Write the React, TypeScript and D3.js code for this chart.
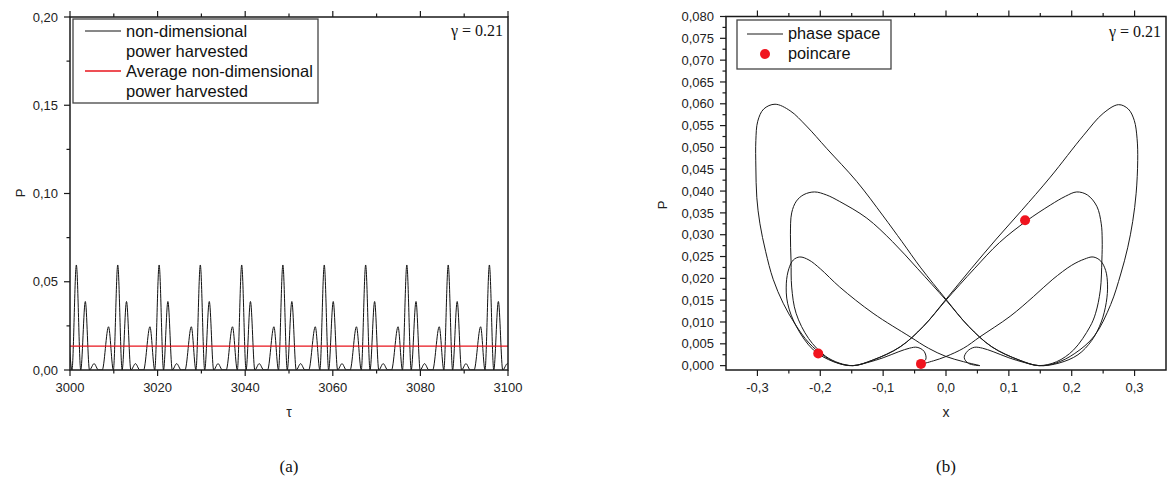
import React from 'react';
import * as d3 from 'd3';

const W = 1169;
const H = 485;

// ---------- Panel (a): power time series ----------
const tauTicks = [3000, 3020, 3040, 3060, 3080, 3100];
const tauMinorTicks = [3010, 3030, 3050, 3070, 3090];
const pTicksA = [0, 0.05, 0.1, 0.15, 0.2];
const pMinorTicksA = [0.025, 0.075, 0.125, 0.175];

const bigPeakTau = [3001.45, 3010.9, 3020.35, 3029.75, 3039.2, 3048.6, 3058.05, 3067.5, 3076.9, 3086.35, 3095.75];
const mediumPeakTau = [3003.5, 3012.9, 3022.35, 3031.8, 3041.2, 3050.65, 3060.1, 3069.55, 3079.0, 3088.4, 3097.8];
const tinyPeakTau = [3005.5, 3014.95, 3024.35, 3033.8, 3043.2, 3052.65, 3062.1, 3071.5, 3080.95, 3090.4, 3099.85];
const smallPeakTau = [2999.35, 3008.8, 3018.25, 3027.7, 3037.1, 3046.55, 3056.0, 3065.4, 3074.9, 3084.3, 3093.75];
const bigPeakP = 0.0595;
const mediumPeakP = 0.0388;
const tinyPeakP = 0.0036;
const smallPeakP = 0.0245;
const zeroTau = [
  2997.9, 3000.45, 3002.45, 3004.45, 3006.5, 3007.35,
  3009.9, 3011.9, 3013.9, 3015.95, 3016.8,
  3019.35, 3021.35, 3023.35, 3025.4, 3026.25,
  3028.75, 3030.75, 3032.8, 3034.8, 3035.65,
  3038.2, 3040.2, 3042.2, 3044.25, 3045.1,
  3047.6, 3049.6, 3051.65, 3053.65, 3054.5,
  3057.05, 3059.05, 3061.1, 3063.1, 3063.95,
  3066.5, 3068.5, 3070.5, 3072.55, 3073.4,
  3075.9, 3077.9, 3079.95, 3081.95, 3082.8,
  3085.35, 3087.35, 3089.4, 3091.4, 3092.25,
  3094.75, 3096.75, 3098.8, 3100.9,
];
const averagePower = 0.0135;

// ---------- Panel (b): phase space ----------
const xTicksB = [-0.3, -0.2, -0.1, 0, 0.1, 0.2, 0.3];
const xMinorTicksB = [-0.25, -0.15, -0.05, 0.05, 0.15, 0.25];
const pTicksB = [0, 0.005, 0.01, 0.015, 0.02, 0.025, 0.03, 0.035, 0.04, 0.045, 0.05, 0.055, 0.06, 0.065, 0.07, 0.075, 0.08];
const pMinorTicksB = [0.0025, 0.0075, 0.0125, 0.0175, 0.0225, 0.0275, 0.0325, 0.0375, 0.0425, 0.0475, 0.0525, 0.0575, 0.0625, 0.0675, 0.0725, 0.0775];

const bigRightArc: [number, number][] = [
  [-0.148, 0], [-0.116, 0.0013], [-0.073, 0.0043], [-0.036, 0.009], [0, 0.0152],
  [0.04, 0.0222], [0.08, 0.029], [0.12, 0.0355], [0.166, 0.0432], [0.219, 0.0528],
  [0.25, 0.0578], [0.2745, 0.0598], [0.29, 0.0588], [0.2995, 0.0562], [0.304, 0.052],
  [0.305, 0.047], [0.3025, 0.0395], [0.297, 0.033], [0.289, 0.027], [0.278, 0.021],
  [0.262, 0.014], [0.236, 0.0068], [0.205, 0.0028], [0.175, 0.0006], [0.148, 0],
];
const mediumLeftArc: [number, number][] = [
  [0.148, 0], [0.116, 0.0013], [0.073, 0.0043], [0.036, 0.009], [0, 0.015],
  [-0.045, 0.0222], [-0.085, 0.0284], [-0.126, 0.0338], [-0.169, 0.0376], [-0.19, 0.0391],
  [-0.209, 0.0398], [-0.226, 0.0392], [-0.238, 0.0377], [-0.2455, 0.035], [-0.2475, 0.03],
  [-0.2465, 0.024], [-0.2455, 0.018], [-0.2385, 0.012], [-0.2185, 0.0062], [-0.192, 0.0022],
  [-0.17, 0.0006], [-0.148, 0],
];
const tinyLeftHook: [number, number][] = [
  [-0.148, 0], [-0.125, 0.0007], [-0.1, 0.0018], [-0.075, 0.0032], [-0.058, 0.004],
  [-0.046, 0.0042], [-0.035, 0.0033], [-0.032, 0.0015], [-0.041, 0.0004],
];
const smallRightArc: [number, number][] = [
  [-0.041, 0.0004], [-0.02, 0.0011], [0, 0.0021], [0.028, 0.004], [0.054, 0.0066],
  [0.102, 0.0113], [0.139, 0.0158], [0.17, 0.0198], [0.2, 0.023], [0.22, 0.0244],
  [0.234, 0.0249], [0.246, 0.024], [0.254, 0.0218], [0.257, 0.0185], [0.255, 0.0145],
  [0.247, 0.01], [0.232, 0.0058], [0.21, 0.0025], [0.18, 0.0006], [0.148, 0],
];
const bigLeftArc: [number, number][] = [
  [0.148, 0], [0.116, 0.0013], [0.073, 0.0043], [0.036, 0.009], [0, 0.0152],
  [-0.04, 0.0224], [-0.07, 0.0284], [-0.1, 0.0343], [-0.142, 0.0422], [-0.19, 0.0498],
  [-0.222, 0.0549], [-0.248, 0.0584], [-0.272, 0.0599], [-0.29, 0.0588], [-0.2995, 0.056],
  [-0.3025, 0.0516], [-0.3025, 0.0455], [-0.301, 0.0385], [-0.296, 0.0325], [-0.287, 0.0262],
  [-0.275, 0.0198], [-0.259, 0.0143], [-0.24, 0.0095], [-0.218, 0.0052], [-0.193, 0.0021],
  [-0.17, 0.0005], [-0.148, 0],
];
const mediumRightArc: [number, number][] = [
  [-0.148, 0], [-0.116, 0.0013], [-0.073, 0.0043], [-0.036, 0.009], [0, 0.015],
  [0.045, 0.0222], [0.085, 0.0282], [0.1285, 0.0332], [0.166, 0.0368], [0.19, 0.0388],
  [0.208, 0.0398], [0.225, 0.0391], [0.24, 0.0365], [0.247, 0.0325], [0.2485, 0.0288],
  [0.248, 0.0242], [0.2455, 0.0173], [0.238, 0.012], [0.229, 0.0089], [0.203, 0.0036],
  [0.176, 0.0009], [0.148, 0],
];
const tinyRightHook: [number, number][] = [
  [0.148, 0], [0.125, 0.0007], [0.1, 0.0018], [0.075, 0.0032], [0.058, 0.004],
  [0.045, 0.0042], [0.034, 0.0033], [0.029, 0.0018], [0.036, 0.0005], [0.054, 0],
];
const smallLeftArc: [number, number][] = [
  [0.054, 0], [0.028, 0.0009], [0, 0.0021], [-0.028, 0.004], [-0.057, 0.0066],
  [-0.116, 0.012], [-0.169, 0.018], [-0.2, 0.0222], [-0.218, 0.0242], [-0.2325, 0.0249],
  [-0.243, 0.0242], [-0.25, 0.0222], [-0.254, 0.0189], [-0.252, 0.0143], [-0.2378, 0.0089],
  [-0.211, 0.0036], [-0.179, 0.0009], [-0.148, 0],
];
const poincareX = [-0.2033, -0.0398, 0.1258];
const poincareP = [0.0028, 0.0004, 0.0333];

// ---------- layout ----------
const A = { left: 70, right: 508, top: 17, bottom: 370 };
const B = { left: 726, right: 1166, top: 16.5, bottom: 370 };

const SANS = '"Liberation Sans", Arial, Helvetica, sans-serif';
const SERIF = '"Liberation Serif", "Times New Roman", Times, serif';
const AX = '#1a1a1a';

const locale = d3.formatLocale({ decimal: ',', thousands: '.', grouping: [3], currency: ['', ''], minus: '-' });
const fmt2 = locale.format('.2f');
const fmt3 = locale.format('.3f');
const fmt1 = locale.format('.1f');
const fmt0 = locale.format('d');

type Box = { left: number; right: number; top: number; bottom: number };

function Frame(props: {
  box: Box;
  x: d3.ScaleLinear<number, number>;
  y: d3.ScaleLinear<number, number>;
  xTicks: number[];
  xMinor: number[];
  yTicks: number[];
  yMinor: number[];
  xFmt: (v: number) => string;
  yFmt: (v: number) => string;
}) {
  const { box, x, y, xTicks, xMinor, yTicks, yMinor, xFmt, yFmt } = props;
  const maj = 6;
  const min = 3.5;
  return (
    <g>
      <rect x={box.left} y={box.top} width={box.right - box.left} height={box.bottom - box.top}
        fill="none" stroke={AX} strokeWidth={1.5} />
      {xTicks.map((v) => (
        <g key={'xt' + v}>
          <line x1={x(v)} x2={x(v)} y1={box.bottom} y2={box.bottom + maj} stroke={AX} strokeWidth={1.2} />
          <line x1={x(v)} x2={x(v)} y1={box.top} y2={box.top - maj} stroke={AX} strokeWidth={1.2} />
          <text x={x(v)} y={392} textAnchor="middle" fontFamily={SANS} fontSize={13} fill="#222">{xFmt(v)}</text>
        </g>
      ))}
      {xMinor.map((v) => (
        <g key={'xm' + v}>
          <line x1={x(v)} x2={x(v)} y1={box.bottom} y2={box.bottom + min} stroke={AX} strokeWidth={1.2} />
          <line x1={x(v)} x2={x(v)} y1={box.top} y2={box.top - min} stroke={AX} strokeWidth={1.2} />
        </g>
      ))}
      {yTicks.map((v) => (
        <g key={'yt' + v}>
          <line x1={box.left} x2={box.left - maj} y1={y(v)} y2={y(v)} stroke={AX} strokeWidth={1.2} />
          <text x={box.left - 12} y={y(v)} dy="0.36em" textAnchor="end" fontFamily={SANS} fontSize={13} fill="#222">{yFmt(v)}</text>
        </g>
      ))}
      {yMinor.map((v) => (
        <line key={'ym' + v} x1={box.left} x2={box.left - min} y1={y(v)} y2={y(v)} stroke={AX} strokeWidth={1.2} />
      ))}
    </g>
  );
}

export default function App() {
  // Panel (a)
  const xA = d3.scaleLinear().domain([3000, 3100]).range([A.left, A.right]);
  const yA = d3.scaleLinear().domain([0, 0.2]).range([A.bottom, A.top]);

  const pts: [number, number][] = [];
  bigPeakTau.forEach((t) => pts.push([t, bigPeakP]));
  mediumPeakTau.forEach((t) => pts.push([t, mediumPeakP]));
  tinyPeakTau.forEach((t) => pts.push([t, tinyPeakP]));
  smallPeakTau.forEach((t) => pts.push([t, smallPeakP]));
  zeroTau.forEach((t) => pts.push([t, 0]));
  pts.sort((a, b) => a[0] - b[0]);
  const powerLine = d3.line<[number, number]>()
    .x((d) => xA(d[0]))
    .y((d) => yA(d[1]))
    .curve(d3.curveMonotoneX);

  // Panel (b)
  const xB = d3.scaleLinear().domain([-0.35, 0.35]).range([B.left, B.right]);
  const yB = d3.scaleLinear().domain([-0.001, 0.08]).range([B.bottom, B.top]);
  const arcs = [bigRightArc, mediumLeftArc, tinyLeftHook, smallRightArc, bigLeftArc, mediumRightArc, tinyRightHook, smallLeftArc];
  const orbit: [number, number][] = [];
  arcs.forEach((a, i) => {
    a.forEach((p, j) => {
      if (j === 0 && i > 0) return;
      orbit.push(p);
    });
  });
  orbit.pop(); // closed: last equals first
  const phaseLine = d3.line<[number, number]>()
    .x((d) => xB(d[0]))
    .y((d) => yB(d[1]))
    .curve(d3.curveCatmullRomClosed.alpha(0.5));

  return (
    <svg width={W} height={H} style={{ position: 'absolute', left: 0, top: 0, background: '#fff' }}>
      <defs>
        <clipPath id="clipA">
          <rect x={A.left} y={A.top} width={A.right - A.left} height={A.bottom - A.top} />
        </clipPath>
        <clipPath id="clipB">
          <rect x={B.left} y={B.top} width={B.right - B.left} height={B.bottom - B.top} />
        </clipPath>
      </defs>
      <rect x={0} y={0} width={W} height={H} fill="#fff" />

      {/* Panel (a) */}
      <g clipPath="url(#clipA)">
        <path d={powerLine(pts) || ''} fill="none" stroke="#111" strokeWidth={1} />
        <line x1={xA(3000)} x2={xA(3100)} y1={yA(averagePower)} y2={yA(averagePower)} stroke="#e8141c" strokeWidth={1.3} />
      </g>
      <Frame box={A} x={xA} y={yA} xTicks={tauTicks} xMinor={tauMinorTicks} yTicks={pTicksA} yMinor={pMinorTicksA}
        xFmt={(v) => fmt0(v)} yFmt={(v) => fmt2(v)} />
      <g>
        <rect x={73} y={19} width={245} height={84} fill="#fff" stroke="#444" strokeWidth={1.3} />
        <line x1={85} x2={121} y1={31} y2={31} stroke="#111" strokeWidth={1} />
        <line x1={85} x2={121} y1={71} y2={71} stroke="#e8141c" strokeWidth={1.3} />
        <g fontFamily={SANS} fontSize={16.5} fill="#111">
          <text x={126} y={37}>non-dimensional</text>
          <text x={126} y={57}>power harvested</text>
          <text x={126} y={77}>Average non-dimensional</text>
          <text x={126} y={97}>power harvested</text>
        </g>
      </g>
      <text x={503} y={36} textAnchor="end" fontFamily={SERIF} fontSize={16} fill="#111">γ = 0.21</text>
      <text transform={`translate(25,193) rotate(-90)`} textAnchor="middle" fontFamily={SANS} fontSize={13} fill="#222">P</text>
      <text x={289} y={417} textAnchor="middle" fontFamily={SANS} fontSize={14} fill="#222">τ</text>
      <text x={289} y={472} textAnchor="middle" fontFamily={SERIF} fontSize={17} fill="#111">(a)</text>

      {/* Panel (b) */}
      <g clipPath="url(#clipB)">
        <path d={phaseLine(orbit) || ''} fill="none" stroke="#1a1a1a" strokeWidth={1} />
        {poincareX.map((px, i) => (
          <circle key={i} cx={xB(px)} cy={yB(poincareP[i])} r={5} fill="#f0141e" />
        ))}
      </g>
      <Frame box={B} x={xB} y={yB} xTicks={xTicksB} xMinor={xMinorTicksB} yTicks={pTicksB} yMinor={pMinorTicksB}
        xFmt={(v) => fmt1(v)} yFmt={(v) => fmt3(v)} />
      <g>
        <rect x={737} y={20} width={154} height={49} fill="#fff" stroke="#444" strokeWidth={1.3} />
        <line x1={747} x2={783} y1={34} y2={34} stroke="#1a1a1a" strokeWidth={1} />
        <circle cx={765} cy={54} r={5} fill="#f0141e" />
        <g fontFamily={SANS} fontSize={16.3} fill="#111">
          <text x={788} y={39}>phase space</text>
          <text x={788} y={59}>poincare</text>
        </g>
      </g>
      <text x={1161} y={37} textAnchor="end" fontFamily={SERIF} fontSize={16} fill="#111">γ = 0.21</text>
      <text transform={`translate(667,205) rotate(-90)`} textAnchor="middle" fontFamily={SANS} fontSize={13} fill="#222">P</text>
      <text x={946} y={417} textAnchor="middle" fontFamily={SANS} fontSize={14} fill="#222">x</text>
      <text x={946} y={472} textAnchor="middle" fontFamily={SERIF} fontSize={17} fill="#111">(b)</text>
    </svg>
  );
}
